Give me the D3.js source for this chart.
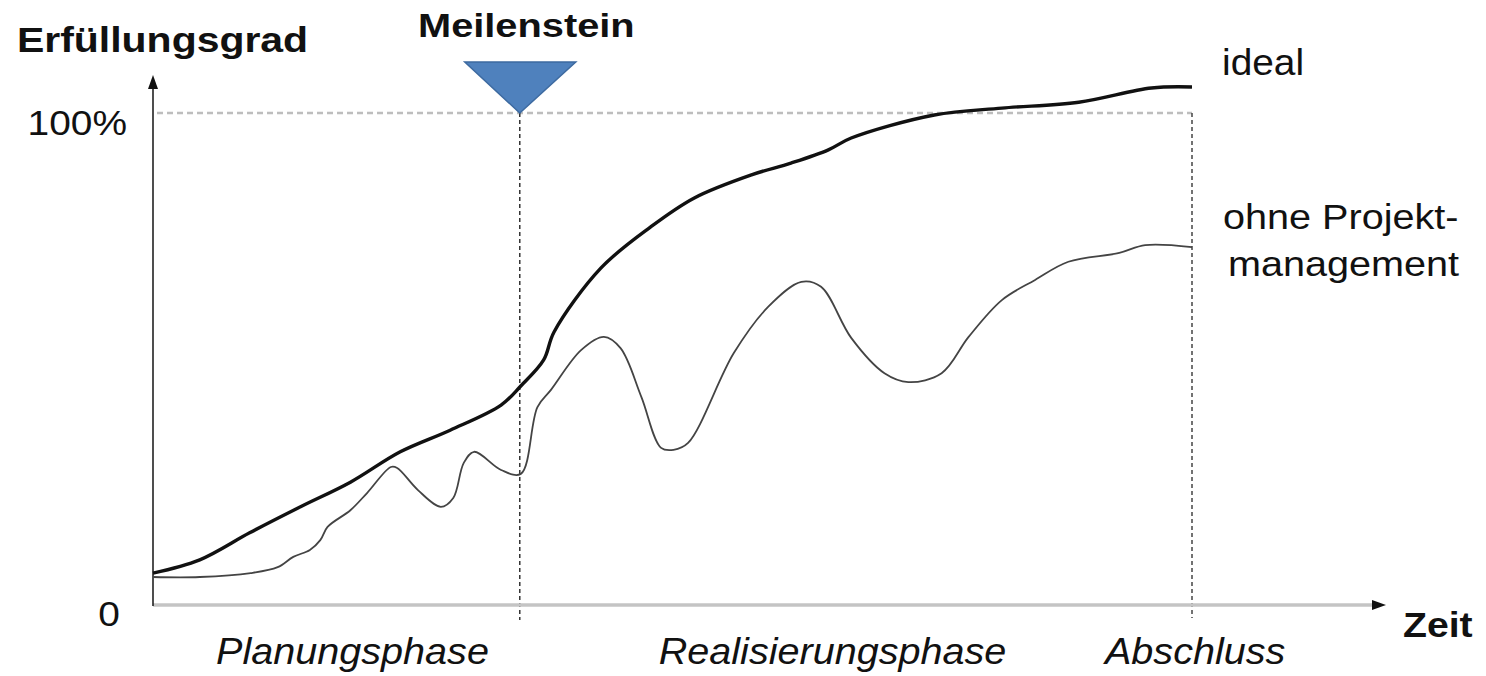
<!DOCTYPE html>
<html>
<head>
<meta charset="utf-8">
<script src="https://cdn.jsdelivr.net/npm/d3@7"></script>
<style>
  body { margin: 0; background: #fff; }
  svg { display: block; font-family: "Liberation Sans", Arial, sans-serif; }
</style>
</head>
<body>
<div id="chart"></div>
<script>
// time axis: 0 = start, 100 = Abschluss; value axis: percent fulfilment
const idealT = [0, 4.5, 9.3, 14.2, 19.0, 23.8, 28.6, 33.5, 35.4, 37.6, 38.6, 43.1, 47.9, 52.1, 57.6, 61.4, 65.0, 67.2, 75.2, 81.7, 89.1, 96.1, 100];
const idealV = [6.3, 9.0, 14.5, 19.8, 24.8, 31.0, 35.4, 40.5, 44.4, 49.7, 55.4, 68.4, 76.8, 82.7, 87.4, 89.8, 92.5, 94.9, 99.6, 101.0, 102.2, 105.1, 105.3];

const ohneT = [0, 4.5, 9.4, 12.0, 13.5, 15.1, 16.1, 16.8, 19.0, 20.6, 22.9, 23.5, 25.5, 27.7, 28.9, 29.9, 30.9, 33.5, 35.4, 37.0, 38.3, 41.2, 43.4, 45.0, 47.0, 48.9, 50.1, 51.5, 55.9, 59.2, 62.4, 64.3, 67.2, 70.4, 72.7, 75.9, 78.5, 81.7, 84.9, 88.1, 93.0, 95.5, 100];
const ohneV = [5.5, 5.5, 6.3, 7.5, 9.6, 11.0, 13.0, 15.7, 19.1, 22.6, 27.9, 27.7, 23.2, 19.8, 21.6, 28.7, 31.0, 27.3, 26.5, 40.1, 43.6, 51.7, 54.4, 52.1, 42.2, 31.8, 31.4, 32.8, 51.1, 60.5, 65.6, 64.6, 54.2, 47.0, 45.2, 47.0, 54.4, 61.9, 66.0, 69.7, 71.5, 73.1, 72.7];

const yTicks = [0, 100];
const yTickLabels = ["0", "100%"];
const milestoneT = 35.3;
const endT = 100;
const phaseNames = ["Planungsphase", "Realisierungsphase", "Abschluss"];
const phaseT = [19.2, 65.4, 100.3];

const width = 1486, height = 676;
const svg = d3.select('#chart').append('svg')
    .attr('width', width)
    .attr('height', height);

const x = d3.scaleLinear().domain([0, 100]).range([153, 1192]);
const y = d3.scaleLinear().domain([0, 100]).range([604, 113]);

// stretched text helper (the source lettering is a bit wide)
function label(txt, px, py, opts) {
  const t = svg.append('text')
      .attr('transform', `translate(${px},${py}) scale(${opts.sx || 1.12},1)`)
      .attr('font-size', opts.size || 36)
      .attr('font-weight', opts.bold ? 'bold' : 'normal')
      .attr('font-style', opts.italic ? 'italic' : 'normal')
      .attr('text-anchor', opts.anchor || 'start')
      .attr('fill', '#111')
      .text(txt);
  return t;
}

// reference dashed lines
svg.append('line')
    .attr('x1', x(0) + 4).attr('x2', x(endT))
    .attr('y1', y(100)).attr('y2', y(100))
    .attr('stroke', '#bdbdbd').attr('stroke-width', 2.5)
    .attr('stroke-dasharray', '6,4');
svg.append('line')
    .attr('x1', x(endT)).attr('x2', x(endT))
    .attr('y1', y(100)).attr('y2', y(0) + 14)
    .attr('stroke', '#444').attr('stroke-width', 1.5)
    .attr('stroke-dasharray', '4,3');
svg.append('line')
    .attr('x1', x(milestoneT)).attr('x2', x(milestoneT))
    .attr('y1', y(100)).attr('y2', y(0) + 16)
    .attr('stroke', '#333').attr('stroke-width', 1.5)
    .attr('stroke-dasharray', '4,3');

// x axis (grey) with black arrow head
svg.append('line')
    .attr('x1', x(0)).attr('x2', 1376)
    .attr('y1', y(0) + 1).attr('y2', y(0) + 1)
    .attr('stroke', '#c4c4c4').attr('stroke-width', 3.5);
svg.append('path')
    .attr('d', d3.line()([[1372, y(0) - 4], [1386, y(0) + 1], [1372, y(0) + 6]]) + 'Z')
    .attr('fill', '#111');

// y axis with arrow
svg.append('line')
    .attr('x1', x(0)).attr('x2', x(0))
    .attr('y1', y(0) + 2).attr('y2', 84)
    .attr('stroke', '#222').attr('stroke-width', 1.6);
svg.append('path')
    .attr('d', d3.line()([[x(0) - 5, 89], [x(0), 75], [x(0) + 5, 89]]) + 'Z')
    .attr('fill', '#111');

// y tick labels via axis
const yAxis = d3.axisLeft(y)
    .tickValues(yTicks)
    .tickFormat((d, i) => yTickLabels[i])
    .tickSize(0)
    .tickPadding(26);
const gy = svg.append('g')
    .attr('transform', `translate(${x(0)},0)`)
    .call(yAxis);
gy.select('.domain').remove();
gy.selectAll('text')
    .attr('font-size', 36)
    .attr('font-family', '"Liberation Sans", Arial, sans-serif')
    .attr('fill', '#111')
    .attr('dy', '0.6em')
    .attr('x', d => d === 0 ? -33 : -26)
    .attr('transform', 'scale(1.08,1)')
    .attr('transform-origin', d => `${d === 0 ? -33 : -26} ${y(d)}`);

// curves
const line = d3.line()
    .x(d => x(d[0]))
    .y(d => y(d[1]))
    .curve(d3.curveCatmullRom.alpha(0.5));

svg.append('path')
    .datum(ohneT.map((t, i) => [t, ohneV[i]]))
    .attr('d', line)
    .attr('fill', 'none')
    .attr('stroke', '#444')
    .attr('stroke-width', 1.8);

svg.append('path')
    .datum(idealT.map((t, i) => [t, idealV[i]]))
    .attr('d', line)
    .attr('fill', 'none')
    .attr('stroke', '#111')
    .attr('stroke-width', 3.4);

// milestone marker
const mx = x(milestoneT);
svg.append('path')
    .attr('d', d3.line()([[mx - 55, 62], [mx + 56, 62], [mx, y(100)]]) + 'Z')
    .attr('fill', '#4f81bd')
    .attr('stroke', '#3d6aa0')
    .attr('stroke-width', 1.5);

// titles and labels
label('Erfüllungsgrad', 17, 52, { bold: true, sx: 1.17, size: 35 });
label('Meilenstein', 418, 37, { bold: true, sx: 1.17, size: 34 });
label('Zeit', 1403, 637, { bold: true, sx: 1.12, size: 35 });
label('ideal', 1222, 75, { sx: 1.05, size: 37 });
label('ohne Projekt-', 1223, 229, { sx: 1.1, size: 36 });
label('management', 1228, 276, { sx: 1.1, size: 36 });

phaseNames.forEach((p, i) => {
  const g = svg.append('g').attr('transform', `translate(${x(phaseT[i])},664)`);
  g.append('text')
      .attr('transform', 'scale(1.07,1)')
      .attr('font-size', 37)
      .attr('font-style', 'italic')
      .attr('text-anchor', 'middle')
      .attr('fill', '#111')
      .text(p);
});
</script>
</body>
</html>
